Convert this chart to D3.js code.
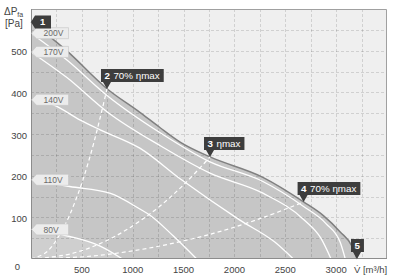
<!DOCTYPE html>
<html><head><meta charset="utf-8">
<script src="https://cdn.jsdelivr.net/npm/d3@7"></script>
<style>body{margin:0;background:#fff}svg{display:block}text{font-family:"Liberation Sans",Arial,sans-serif}</style>
</head><body><svg id="c" width="394" height="277"></svg>
<script>
// ---- data ----
const xTicks = [500, 1000, 1500, 2000, 2500, 3000];
const yTicks = [100, 200, 300, 400, 500];
const xGrid = [250,500,750,1000,1250,1500,1750,2000,2250,2500,2750,3000,3250];
const yGrid = [50,100,150,200,250,300,350,400,450,500,550];
const envelope = [[0,569],[350,500],[750,408],[1070,352],[1270,315],[1470,280],[1760,245],[2280,196],[2680,137],[2880,103],[3040,65],[3160,29],[3205,0]];
const curve200 = [[0,542],[350,478],[750,392],[1270,303],[1760,233],[2280,186],[2680,126],[2900,85],[3040,40],[3090,0]];
const curve170 = [[0,497],[350,436],[750,353],[1270,272],[1760,206],[2280,158],[2680,95],[2850,50],[2950,0]];
const curve140 = [[0,382],[220,370],[480,334],[680,310],[1070,266],[1480,190],[2050,94],[2400,40],[2580,0]];
const curve110 = [[0,190],[380,174],[775,158],[1070,120],[1170,105],[1400,55],[1630,0]];
const curve80  = [[0,71],[380,54],[680,31],[900,0]];
const voltCurves = [curve200, curve170, curve140, curve110, curve80];
const voltLabels = ["200V","170V","140V","110V","80V"];
const eff70Left  = [[0,0],[150,16],[300,66],[450,148],[600,263],[747,408]];
const effMax     = [[0,0],[400,13],[800,51],[1200,114],[1500,178],[1760,245]];
const eff70Right = [[0,0],[600,7],[1200,28],[1800,62],[2300,101],[2680,137]];
const pointIds   = ["1","2","3","4","5"];
const pointTexts = ["","70% ηmax","ηmax","70% ηmax",""];
const pointV     = [0,747,1760,2680,3205];
const pointP     = [569,408,245,137,0];

// ---- chart ----
const L=31, R=387, T=9, B=259;
const svg=d3.select("#c");
const x=d3.scaleLinear().domain([0,3500]).range([L,R]);
const y=d3.scaleLinear().domain([0,600]).range([B,T]);
const line=d3.line().x(d=>x(d[0])).y(d=>y(d[1])).curve(d3.curveMonotoneX);
const area=d3.area().x(d=>x(d[0])).y0(y(0)).y1(d=>y(d[1])).curve(d3.curveMonotoneX);

svg.append("rect").attr("x",L).attr("y",T).attr("width",R-L).attr("height",B-T).attr("fill","#efefef");
svg.append("path").datum(envelope).attr("d",area).attr("fill","#c6c6c6");
svg.append("path").datum(curve80).attr("d",area).attr("fill","#cfcfcf");

// grid
const g=svg.append("g").attr("stroke","rgba(0,0,0,0.13)").attr("stroke-dasharray","3,2").attr("stroke-width",1);
g.selectAll("line.v").data(xGrid).join("line").attr("x1",d=>Math.round(x(d))+0.5).attr("x2",d=>Math.round(x(d))+0.5).attr("y1",T).attr("y2",B);
g.selectAll("line.h").data(yGrid).join("line").attr("y1",d=>Math.round(y(d))+0.5).attr("y2",d=>Math.round(y(d))+0.5).attr("x1",L).attr("x2",R);

// envelope outline
svg.append("path").datum(envelope).attr("d",line).attr("fill","none").attr("stroke","#808080").attr("stroke-width",1.5);

// voltage curves
svg.selectAll("path.vc").data(voltCurves).join("path").attr("class","vc").attr("d",line)
  .attr("fill","none").attr("stroke","#fff").attr("stroke-width",1.3);
// efficiency lines
svg.selectAll("path.ef").data([eff70Left,effMax,eff70Right]).join("path").attr("class","ef")
  .attr("d",d3.line().x(d=>x(d[0])).y(d=>y(d[1])).curve(d3.curveCatmullRom))
  .attr("fill","none").attr("stroke","#fff").attr("stroke-width",1.2).attr("stroke-dasharray","4,3");

// frame
svg.append("path").attr("d",`M${L+0.5},${T+0.5}H${R-0.5}V${B-0.5}`).attr("fill","none").attr("stroke","#a0a0a0");
svg.append("path").attr("d",`M${L+0.5},${T}V${B-0.5}H${R}`).attr("fill","none").attr("stroke","#8c8c8c");

// axes labels
const ax=svg.append("g").attr("font-size","9.5px").attr("fill","#444");
ax.selectAll("text.xt").data(xTicks).join("text").attr("x",d=>x(d)).attr("y",273).attr("text-anchor","middle").text(d=>d);
ax.selectAll("text.yt").data(yTicks).join("text").attr("x",27).attr("y",d=>y(d)+4.5).attr("text-anchor","end").text(d=>d);
ax.append("text").attr("x",20).attr("y",270).attr("text-anchor","end").text("0");
// axis titles
const yt=ax.append("text").attr("x",4).attr("y",15).attr("font-size","10px");
yt.append("tspan").text("ΔP");
yt.append("tspan").attr("font-size","7px").attr("dy",1.5).text("fa");
ax.append("text").attr("x",5).attr("y",26.5).attr("font-size","10px").text("[Pa]");
const xt=ax.append("text").attr("x",354).attr("y",273).attr("font-size","9.5px");
xt.append("tspan").text("V̇ [m³/h]");

// voltage tags
const tags=svg.selectAll("g.tag").data(voltCurves).join("g").attr("class","tag")
  .attr("transform",d=>`translate(${L+0.5},${y(d[0][1])})`);
tags.append("path").attr("d","M0,0L5,-5.5H37V5.5H5Z").attr("fill","#ececec").attr("stroke","#c4c4c4").attr("stroke-width",0.6);
tags.append("text").data(voltLabels).attr("x",12).attr("y",3.3).attr("font-size","8.5px").attr("fill","#6a6a6a").text(d=>d);

// point markers
pointIds.forEach((id,i)=>{
  const px=x(pointV[i]), py=y(pointP[i]);
  const mg=svg.append("g");
  if(i===0){
    mg.append("path").attr("d",`M${px},${py}L${px+4},${py-6.5}H${px+20}V${py+6.5}H${px+4}Z`).attr("fill","#3d3d3d");
    mg.append("text").attr("x",px+9).attr("y",py+3.5).attr("font-size","9.5px").attr("font-weight","bold").attr("fill","#fff").text(id);
    return;
  }
  const bx=px-6, by=py-7-13;
  const t=mg.append("text").attr("x",bx+3.5).attr("y",by+9.8).attr("font-size","9.8px").attr("fill","#fff");
  t.append("tspan").attr("font-weight","bold").text(id);
  if(pointTexts[i]) t.append("tspan").attr("dx",3.5).text(pointTexts[i]);
  const w=t.node().getComputedTextLength()+(pointTexts[i]?11:7.5);
  mg.insert("path","text").attr("d",`M${bx},${by}H${bx+w}V${by+13}H${px+4}L${px},${py}L${px-4},${by+13}H${bx}Z`).attr("fill","#3d3d3d");
});
</script></body></html>
